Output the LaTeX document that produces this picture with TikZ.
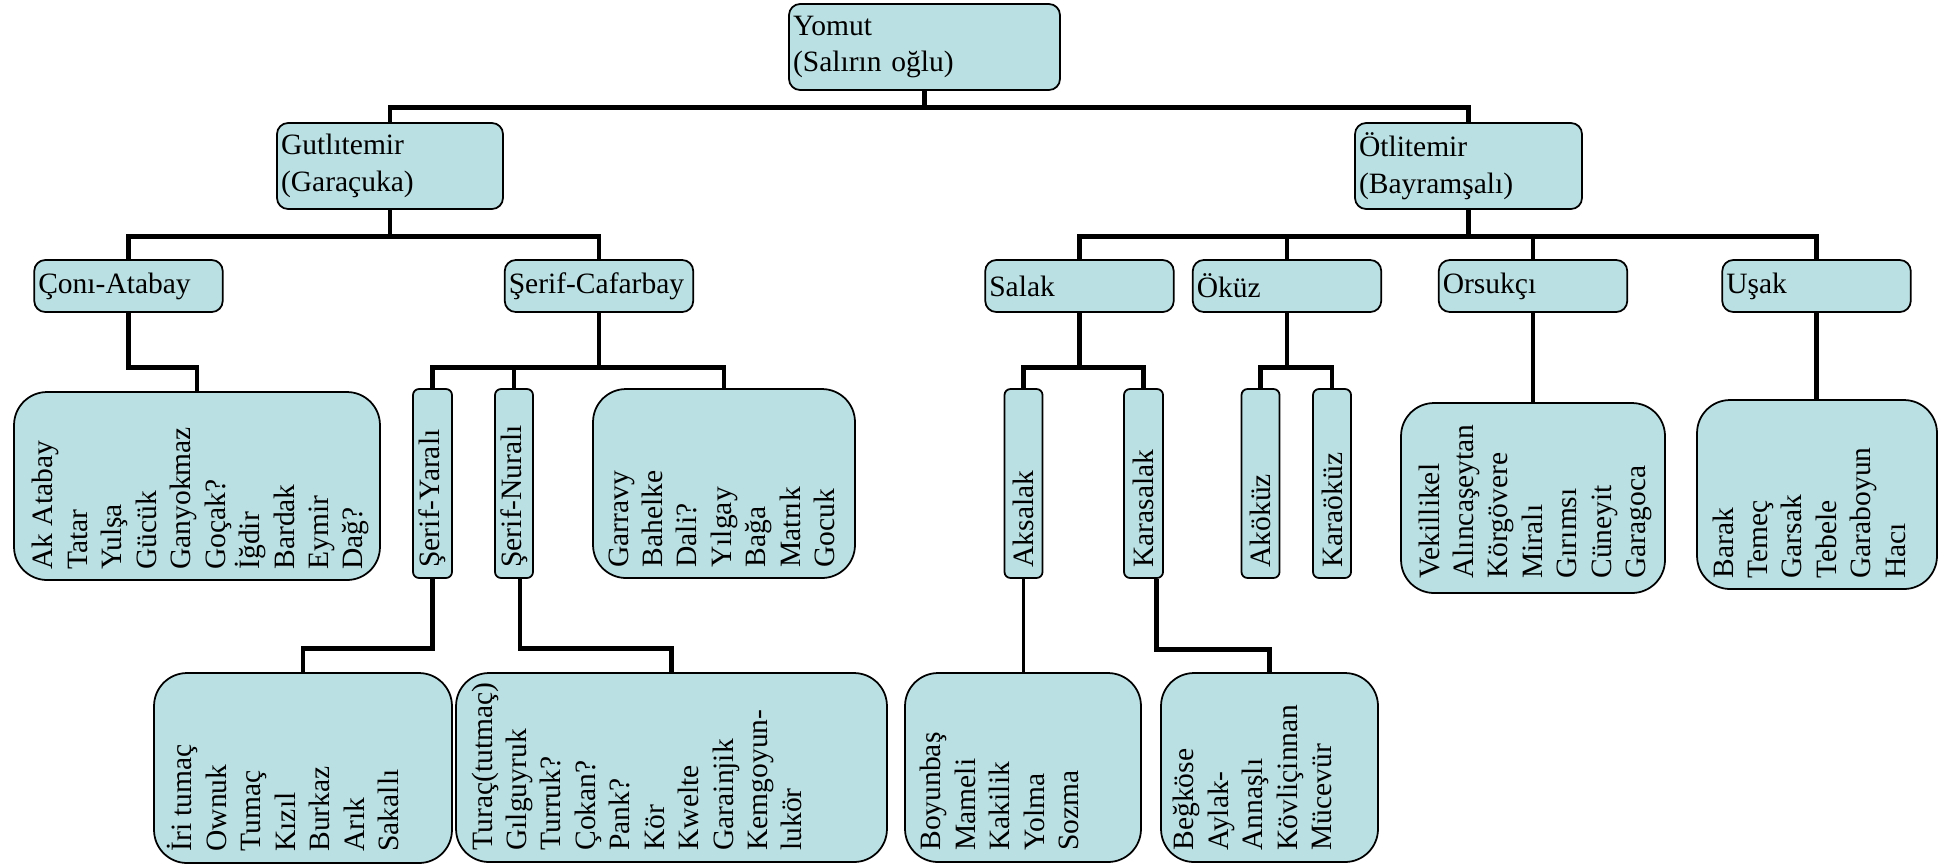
\documentclass[tikz,border=0pt]{standalone}
\usepackage{fontspec}
\setmainfont{Liberation Serif}
\definecolor{box_fill}{HTML}{BBE0E3}

\begin{document}
\begin{tikzpicture}[x=0.02cm, y=-0.02cm,
                    clanbox/.style={draw, fill=box_fill, line width=1pt, rounded corners=0.22cm, align=left,
                                    inner xsep=0.08cm, inner ysep=0pt, font=\fontsize{16.8}{21}\selectfont},
                    bigbox/.style={clanbox, minimum height=1.72cm},
                    tribebox/.style={clanbox, minimum height=1.04cm, text width=3.61cm},
                    listbox/.style={draw, fill=box_fill, line width=1pt, rounded corners=0.66cm, inner sep=0pt},
                    namebox/.style={listbox, rounded corners=0.12cm, minimum width=0.76cm, minimum height=3.78cm},
                    names/.style={rotate=90, align=left, inner sep=0pt, font=\fontsize{16.8}{19.6}\selectfont},
                    link/.style={line width=2.8pt},
                    thinlink/.style={line width=2.2pt}]

  \useasboundingbox (0,0) rectangle (1953,867);

  % Define clans
  \node[bigbox, text width=5.26cm] (yomut) at (924.5,47) {Yomut\\(Salırın oğlu)};
  \node[bigbox, text width=4.36cm] (gutli) at (390,166) {Gutlıtemir\\(Garaçuka)};
  \node[bigbox, text width=4.38cm] (otli) at (1468.5,166) {Ötlitemir\\(Bayramşalı)};

  \node[tribebox] (coni) at (128.5,286) {Çonı-Atabay};
  \node[tribebox] (serifc) at (599,286) {Şerif-Cafarbay};
  \node[tribebox] (salak) at (1079.5,286) {Salak};
  \node[tribebox] (okuz) at (1287,286) {Öküz};
  \node[tribebox] (orsukci) at (1533,286) {Orsukçı};
  \node[tribebox] (usak) at (1816.5,286) {Uşak};

  % Narrow boxes
  \node[namebox, minimum width=0.78cm] (yarali) at (432.5,483.5) {};
  \node[namebox] (nurali) at (514,483.5) {};
  \node[namebox] (aksalak) at (1023.5,483.5) {};
  \node[namebox, minimum width=0.78cm] (karasalak) at (1143.5,483.5) {};
  \node[namebox] (akokuz) at (1260.5,483.5) {};
  \node[namebox] (karaokuz) at (1332,483.5) {};
  \node[names, anchor=west] (yarali_t) at ([shift={(0,-11)}]yarali.south) {Şerif-Yaralı};
  \node[names, anchor=west] (nurali_t) at ([shift={(0,-11)}]nurali.south) {Şerif-Nuralı};
  \node[names, anchor=west] (aksalak_t) at ([shift={(0,-11)}]aksalak.south) {Aksalak};
  \node[names, anchor=west] (karasalak_t) at ([shift={(0,-11)}]karasalak.south) {Karasalak};
  \node[names, anchor=west] (akokuz_t) at ([shift={(0,-11)}]akokuz.south) {Aköküz};
  \node[names, anchor=west] (karaokuz_t) at ([shift={(0,-11)}]karaokuz.south) {Karaöküz};

  % Lists of names
  \node[listbox, minimum width=7.32cm, minimum height=3.76cm] (akatabay) at (197,486) {};
  \node[names, anchor=north west] (akatabay_t) at ([shift={(19,-11)}]akatabay.south west)
    {Ak Atabay\\Tatar\\Yulşa\\Gücük\\Ganyokmaz\\Goçak?\\İğdir\\Bardak\\Eymir\\Dağ?};
  \node[listbox, minimum width=5.24cm, minimum height=3.78cm] (garravy) at (724,483.5) {};
  \node[names, anchor=north west] (garravy_t) at ([shift={(16,-11)}]garravy.south west)
    {Garravy\\Bahelke\\Dali?\\Yılgay\\Bağa\\Matrık\\Gocuk};
  \node[listbox, minimum width=5.28cm, minimum height=3.8cm] (vekil) at (1533,498) {};
  \node[names, anchor=north west] (vekil_t) at ([shift={(18,-15)}]vekil.south west)
    {Vekillikel\\Alıncaşeytan\\Körgövere\\Miralı\\Gırımsı\\Cüneyit\\Garagoca};
  \node[listbox, minimum width=4.8cm, minimum height=3.78cm] (barak) at (1817,494.5) {};
  \node[names, anchor=north west] (barak_t) at ([shift={(16,-11)}]barak.south west)
    {Barak\\Temeç\\Garsak\\Tebele\\Garaboyun\\Hacı};
  \node[listbox, minimum width=5.96cm, minimum height=3.8cm] (iritumac) at (303,768) {};
  \node[names, anchor=north west] (iritumac_t) at ([shift={(14,-12)}]iritumac.south west)
    {İri tumaç\\Ownuk\\Tumaç\\Kızıl\\Burkaz\\Arık\\Sakallı};
  \node[listbox, minimum width=8.62cm, minimum height=3.78cm] (turac) at (671.5,767.5) {};
  \node[names, anchor=north west] (turac_t) at ([shift={(16,-12)}]turac.south west)
    {Turaç(tutmaç)\\Gılguyruk\\Turruk?\\Çokan?\\Pank?\\Kör\\Kwelte\\Garainjik\\Kemgoyun-\\lukör};
  \node[listbox, minimum width=4.72cm, minimum height=3.78cm] (boyunbas) at (1023,767.5) {};
  \node[names, anchor=north west] (boyunbas_t) at ([shift={(16,-12)}]boyunbas.south west)
    {Boyunbaş\\Mameli\\Kakilik\\Yolma\\Sozma};
  \node[listbox, minimum width=4.34cm, minimum height=3.78cm] (begkose) at (1269.5,767.5) {};
  \node[names, anchor=north west] (begkose_t) at ([shift={(13,-12)}]begkose.south west)
    {Beğköse\\Aylak-\\Annaşlı\\Kövliçinnan\\Mücevür};

  % Connections
  \draw[link] (yomut.south) -- ++(0,17) -| (gutli.north);
  \draw[link] (yomut.south) -- ++(0,17) -| (otli.north);
  \draw[link] (gutli.south) -- ++(0,27) -| (coni.north);
  \draw[link] (gutli.south) -- ++(0,27) -| (serifc.north);
  \foreach \n in {salak, okuz, orsukci, usak}
    \draw[link] (otli.south) -- ++(0,27) -| (\n.north);
  \draw[link] (coni.south) -- ++(0,55) -| (akatabay.north);
  \foreach \n in {yarali, nurali, garravy}
    \draw[link] (serifc.south) -- ++(0,55) -| (\n.north);
  \foreach \n in {aksalak, karasalak}
    \draw[link] (salak.south) -- ++(0,55) -| (\n.north);
  \foreach \n in {akokuz, karaokuz}
    \draw[link] (okuz.south) -- ++(0,55) -| (\n.north);
  \draw[thinlink] (orsukci.south) -- (orsukci.south |- vekil.north);
  \draw[link] (usak.south) -- (usak.south |- barak.north);
  \draw[link] (yarali.south) -- ++(0,70) -| (iritumac.north);
  \draw[link] ([xshift=0.12cm]nurali.south) -- ++(0,70) -| (turac.north);
  \draw[thinlink] (aksalak.south) -- (aksalak.south |- boyunbas.north);
  \draw[link] ([xshift=0.26cm]karasalak.south) -- ++(0,71) -| (begkose.north);

\end{tikzpicture}
\end{document}
